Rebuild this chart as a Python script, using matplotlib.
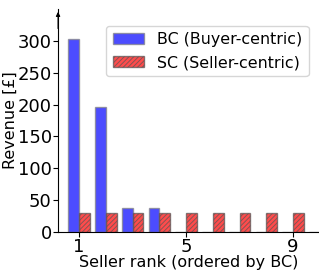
import numpy as np
import matplotlib
matplotlib.use("Agg")
import matplotlib.pyplot as plt

# seller ranks and revenue per seller
ranks = np.arange(1, 11)
bc_revenue = [303, 196, 38, 38, 0, 0, 0, 0, 0, 0]
sc_revenue = [30, 30, 30, 30, 30, 30, 30, 30, 30, 30]
xtick_labels = [1, 5, 9]

plt.rcParams['font.size'] = 11.5
plt.rcParams['hatch.linewidth'] = 0.7

fig = plt.figure(figsize=(3.19, 2.74), dpi=100)
ax = fig.add_axes([0.182, 0.153, 0.818, 0.814])

w = 0.4
ax.bar(ranks - w / 2, bc_revenue, w, color="blue", alpha=0.7, edgecolor="gray",
       linewidth=1, label="BC (Buyer-centric)")
ax.bar(ranks + w / 2, sc_revenue, w, color="red", alpha=0.7, edgecolor="#555555",
       linewidth=1, hatch="///////", label="SC (Seller-centric)")

ax.set_xlim(0.21, 9.97)
ax.set_ylim(0, 350)
ax.set_xticks(xtick_labels)
ax.set_yticks(np.arange(0, 301, 50))
ax.tick_params(labelsize=13, pad=1)
ax.set_xlabel("Seller rank (ordered by BC)", labelpad=-1)
ax.set_ylabel("Revenue [£]", labelpad=0)

ax.spines['top'].set_visible(False)
ax.spines['right'].set_visible(False)
# arrow head on the y axis
ax.annotate("", xy=(0, 1.0), xytext=(0, 0.9), xycoords="axes fraction",
            arrowprops=dict(arrowstyle="-|>", color="k", lw=0.8, mutation_scale=6))

ax.legend(loc="upper right", handlelength=2.0, bbox_to_anchor=(0.96, 0.925),
          fontsize=11.4, borderaxespad=0)

fig.savefig("out.png", dpi=100)
